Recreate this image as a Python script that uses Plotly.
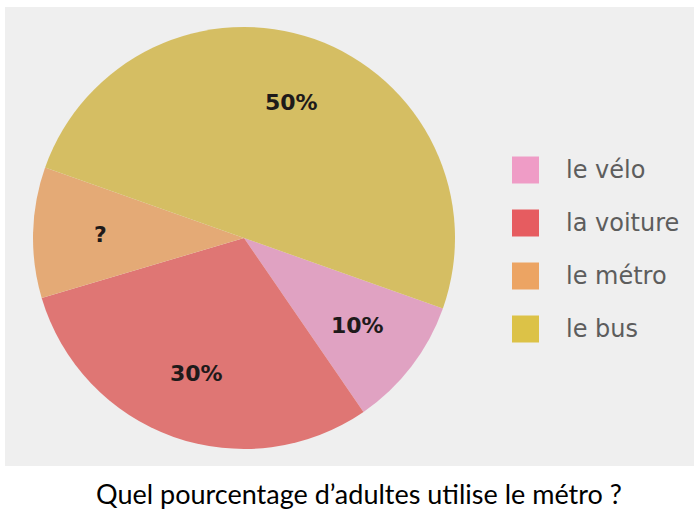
import math
import plotly.graph_objects as go

labels = ["le vélo", "la voiture", "le métro", "le bus"]
values = [10, 30, 10, 50]
slice_text = ["10%", "30%", "?", "50%"]
slice_colors = ["#e0a2c2", "#df7674", "#e4aa76", "#d5be63"]
legend_colors = ["#ef9cc6", "#e65c60", "#eca463", "#dcc247"]
title_text = "Quel pourcentage d’adultes utilise le métro ?"

W, H = 694, 517
CX, CY, R = 244, 238, 211          # pie centre / radius in pixels
ROTATION = 109.5
fig = go.Figure()
fig.add_trace(go.Pie(
    labels=labels, values=values,
    textinfo="none",
    sort=False, direction="clockwise", rotation=ROTATION,
    marker=dict(colors=slice_colors, line=dict(width=0)),
    domain=dict(x=[(CX - R) / W, (CX + R) / W], y=[(H - CY - R) / H, (H - CY + R) / H]),
    showlegend=False, hoverinfo="skip",
))

shapes = [dict(type="rect", xref="paper", yref="paper", x0=5 / W, x1=1, y0=(H - 466) / H, y1=(H - 7) / H,
               fillcolor="#efefef", line=dict(width=0), layer="below")]
annotations = []

# slice labels placed at the middle angle of each slice
total = sum(values)
cum = 0
for v, t in zip(values, slice_text):
    mid = math.radians(ROTATION + 360 * (cum + v / 2) / total)
    cum += v
    px = CX + 0.68 * R * math.sin(mid)
    py = CY - 0.68 * R * math.cos(mid)
    annotations.append(dict(text=t, xref="paper", yref="paper", x=px / W, y=(H - py) / H,
                            xanchor="center", yanchor="middle", showarrow=False,
                            font=dict(family="DejaVu Sans", size=22, color="#1e1a1a", weight="bold")))

row0, gap = 170, 53
for i, (lab, col) in enumerate(zip(labels, legend_colors)):
    yc = row0 + i * gap
    shapes.append(dict(type="rect", xref="paper", yref="paper",
                       x0=512 / W, x1=539 / W, y0=(H - yc - 13.5) / H, y1=(H - yc + 13.5) / H,
                       fillcolor=col, line=dict(width=0), layer="below"))
    annotations.append(dict(text=lab, xref="paper", yref="paper", x=564 / W, y=(H - yc) / H,
                            xanchor="left", yanchor="middle", showarrow=False,
                            font=dict(family="DejaVu Sans", size=24, color="#5d5d5d")))
annotations.append(dict(text=title_text, xref="paper", yref="paper", x=359 / W, y=(H - 493) / H,
                        xanchor="center", yanchor="middle", showarrow=False,
                        font=dict(family="Lato", size=27, color="#000000")))

fig.update_layout(width=W, height=H, margin=dict(l=0, r=0, t=0, b=0),
                  paper_bgcolor="#ffffff", plot_bgcolor="#ffffff",
                  shapes=shapes, annotations=annotations)
fig.write_html("out.html", config={"displayModeBar": False},
               post_script="document.body.style.margin='0';document.body.style.overflow='hidden';")
